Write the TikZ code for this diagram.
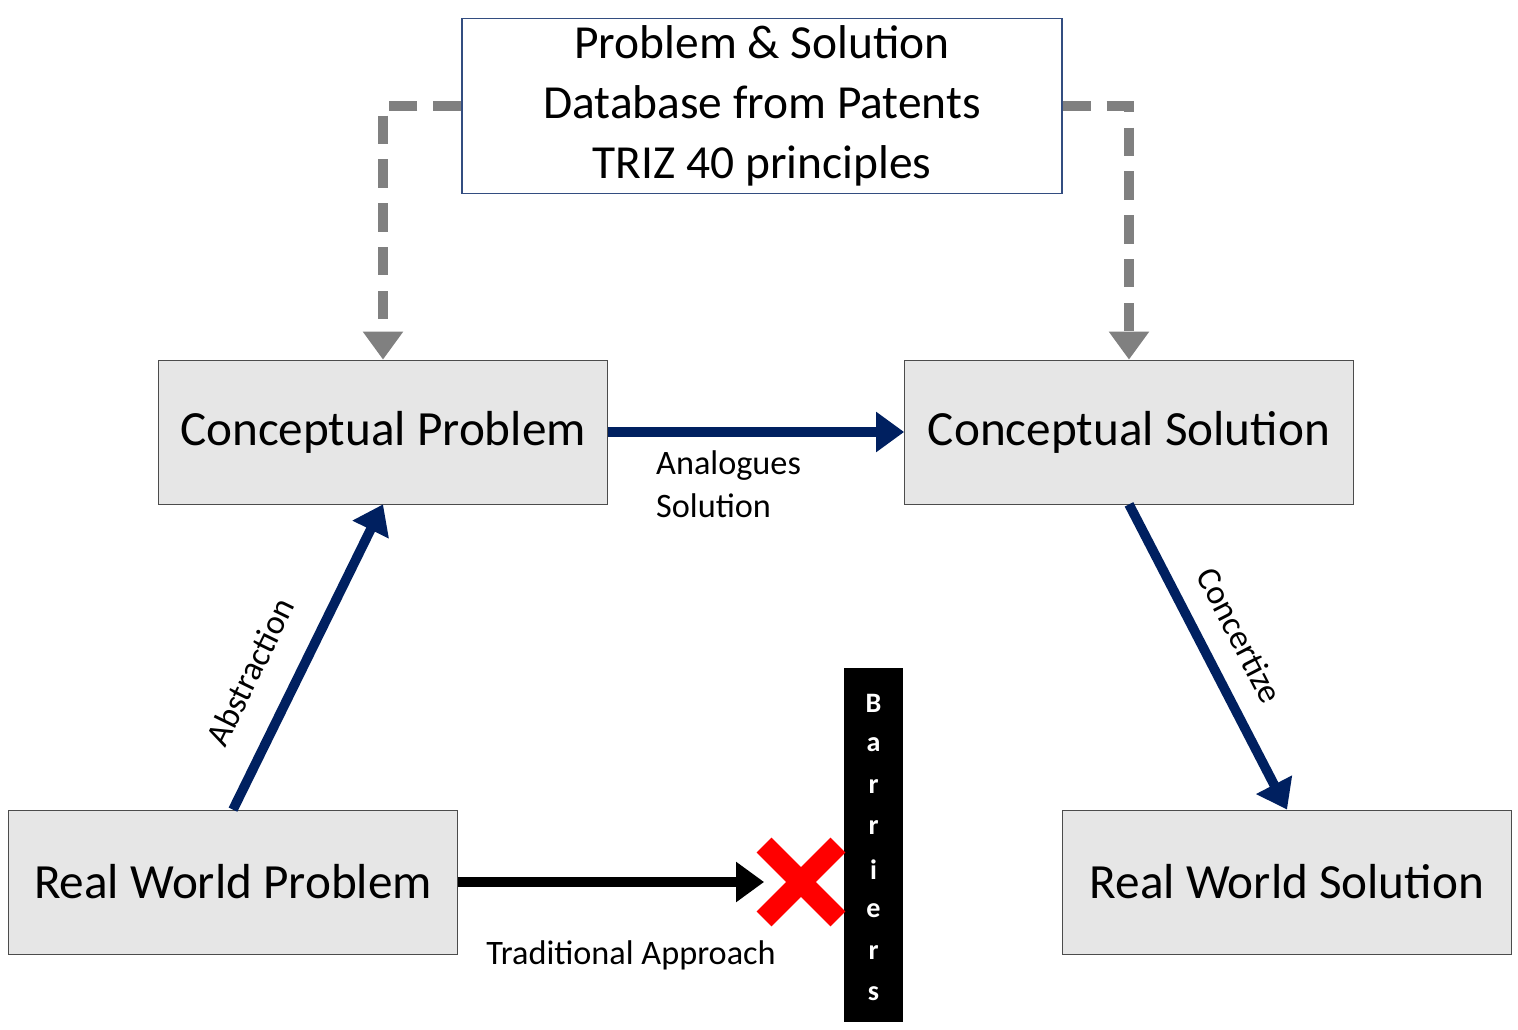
\documentclass[tikz,border=0pt]{standalone}
\usepackage{fontspec}
\setmainfont{Carlito}
\usetikzlibrary{positioning,shapes.misc}
\definecolor{triznavy}{RGB}{0,32,96}
\definecolor{trizgray}{RGB}{128,128,128}
\definecolor{trizbox}{RGB}{230,230,230}
\tikzset{
  stage/.style={draw=black!70,fill=trizbox,minimum width=449*0.02cm,minimum height=144*0.02cm,font=\fontsize{28}{32}\selectfont},
  flow/.style={draw=triznavy,line width=5.5pt,-{Triangle[length=16pt,width=22pt]}},
  dbflow/.style={draw=trizgray,line width=5.5pt,dash pattern=on 16pt off 9pt,-{Triangle[length=16pt,width=22pt]}},
  lbl/.style={font=\fontsize{19.5}{24}\selectfont}
}
\usetikzlibrary{arrows.meta}
\begin{document}
\begin{tikzpicture}[x=0.02cm,y=-0.02cm]
  \useasboundingbox (0,0) rectangle (1518,1030);
  % knowledge base
  \node[draw=triznavy!80,thick,fill=white,minimum width=600*0.02cm,minimum height=175*0.02cm,align=center,
        font=\fontsize{27}{34}\selectfont] (db) at (762,106)
        {Problem \& Solution\\Database from Patents\\TRIZ 40 principles};
  % stages
  \node[stage] (cp) at (383,432) {Conceptual Problem};
  \node[stage] (cs) at (1129,432) {Conceptual Solution};
  \node[stage] (rwp) at (233,882) {Real World Problem};
  \node[stage] (rws) at (1287,882) {Real World Solution};
  % barrier
  \fill[black] (844,668) rectangle (903,1022);
  \foreach \c [count=\i] in {B,a,r,r,i,e,r,s}
    \node[text=white,font=\bfseries\fontsize{16}{18}\selectfont] (bar\i) at (873.5,662+41.5*\i) {\c};
  \node[cross out,draw=red,line width=12pt,inner sep=0pt,minimum size=30pt] (stop) at (801,882) {};
  % connectors
  \coordinate (dbl) at (383,106);
  \coordinate (dbr) at (1129,106);
  \draw[dbflow] (db.west) -- (dbl) -- (cp.north);
  \draw[dbflow] (db.east) -- (dbr) -- (cs.north);
  \draw[flow] (cp.east) -- (cs.west);
  \draw[flow] (rwp.north) -- (cp.south);
  \draw[flow] (cs.south) -- (rws.north);
  \draw[line width=5.5pt,-{Triangle[length=16pt,width=22pt]}] (rwp.east) -- (stop.west);
  % labels
  \node[lbl,align=left,anchor=north west] (ana) at (650,445) {Analogues\\Solution};
  \node[lbl] (trad) at (631,955) {Traditional Approach};
  \node[lbl,rotate=63.9] (abs) at (250,672) {Abstraction};
  \node[lbl,rotate=-62.7] (con) at (1240,635) {Concertize};
\end{tikzpicture}
\end{document}
